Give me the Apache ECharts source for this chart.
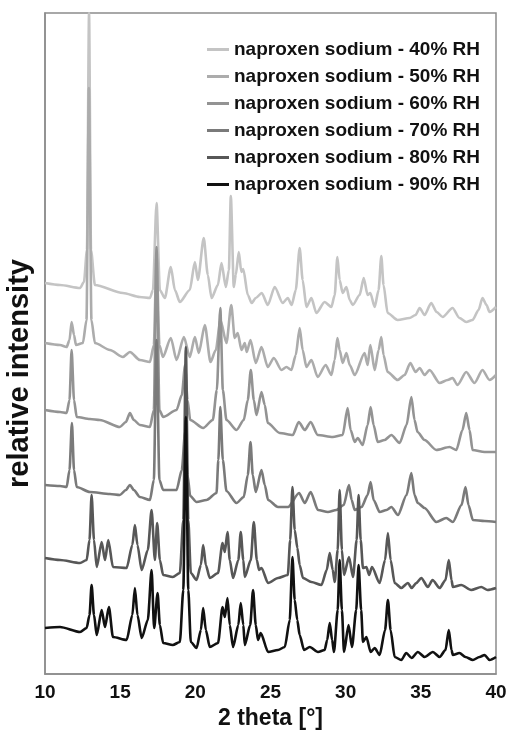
<!DOCTYPE html>
<html>
<head>
<meta charset="utf-8">
<title>naproxen sodium XRPD</title>
<script src="https://cdn.jsdelivr.net/npm/echarts@6/dist/echarts.min.js"></script>
<style>
  html, body { margin: 0; padding: 0; background: #fff; }
  #main { width: 507px; height: 739px; }
</style>
</head>
<body>
<div id="main"></div>
<script>
// series names, as in the legend
var seriesNames = [
  'naproxen sodium - 40% RH',
  'naproxen sodium - 50% RH',
  'naproxen sodium - 60% RH',
  'naproxen sodium - 70% RH',
  'naproxen sodium - 80% RH',
  'naproxen sodium - 90% RH'
];

var xTicks = [10, 15, 20, 25, 30, 35, 40];

// [2 theta, relative intensity incl. stacking offset]
var rh40 = [
  [10.00,391],[11.00,389],[12.33,386],[12.59,392],[12.79,424],[12.93,661],[13.06,424],[13.32,389],
  [15.18,381],[16.31,377],[16.98,376],[17.18,384],[17.42,471],[17.64,384],[17.97,376],[18.37,407],
  [18.64,384],[18.97,372],[19.63,384],[19.97,412],[20.17,394],[20.56,436],[20.83,399],[21.08,376],
  [21.50,389],[21.74,411],[22.03,387],[22.23,404],[22.36,478],[22.56,387],[22.69,399],[22.89,422],
  [23.06,402],[23.19,405],[23.49,379],[23.75,371],[24.02,376],[24.42,381],[24.82,369],[25.28,387],
  [25.81,371],[26.15,376],[26.41,369],[26.68,384],[26.94,426],[27.14,394],[27.39,367],[27.72,376],
  [28.05,361],[28.60,372],[29.05,367],[29.27,379],[29.45,417],[29.60,394],[29.80,381],[30.05,387],
  [30.27,374],[30.47,369],[30.93,379],[31.20,396],[31.46,379],[31.64,381],[31.93,367],[32.19,384],
  [32.37,418],[32.52,389],[32.79,361],[33.46,354],[34.25,356],[34.65,359],[34.92,366],[35.25,359],
  [35.69,371],[36.05,362],[36.45,357],[37.11,366],[37.57,356],[38.02,352],[38.44,354],[38.84,364],
  [39.10,376],[39.37,369],[39.57,362],[40.00,367]
];

var rh50 = [
  [10.00,331],[11.00,329],[11.44,327],[11.63,334],[11.77,352],[11.93,339],[12.06,329],[12.52,331],
  [12.76,354],[12.92,586],[13.09,354],[13.32,331],[14.32,324],[15.18,317],[15.65,322],[16.31,314],
  [16.98,312],[17.24,329],[17.42,419],[17.61,329],[17.84,317],[18.37,336],[18.75,314],[19.24,337],
  [19.63,317],[19.97,337],[20.23,321],[20.63,349],[21.01,312],[21.36,324],[21.67,354],[22.07,331],
  [22.39,369],[22.62,336],[22.82,341],[23.07,324],[23.29,331],[23.42,322],[23.67,334],[24.02,311],
  [24.40,327],[24.82,307],[25.22,316],[25.73,304],[26.06,307],[26.39,304],[26.68,319],[26.94,346],
  [27.14,324],[27.39,307],[27.72,314],[28.14,297],[28.67,309],[29.05,299],[29.27,314],[29.45,336],
  [29.60,324],[29.80,311],[30.05,321],[30.27,309],[30.60,299],[31.26,321],[31.46,309],[31.64,329],
  [31.93,304],[32.19,324],[32.37,337],[32.52,319],[32.79,302],[33.46,294],[33.92,299],[34.30,311],
  [34.65,302],[34.92,306],[35.25,299],[35.58,304],[36.25,291],[36.78,294],[37.11,296],[37.44,289],
  [38.02,302],[38.57,291],[39.10,304],[39.57,294],[40.00,299]
];

var rh60 = [
  [10.00,264],[11.00,262],[11.44,261],[11.63,274],[11.77,324],[11.93,274],[12.11,257],[12.99,255],
  [13.65,254],[14.98,247],[15.38,252],[15.65,261],[15.91,254],[16.31,249],[16.98,247],[17.24,264],
  [17.42,427],[17.61,264],[17.86,257],[18.75,264],[19.10,279],[19.32,309],[19.48,274],[19.66,254],
  [20.52,246],[21.16,254],[21.43,284],[21.66,366],[21.83,284],[22.07,254],[22.74,244],[23.22,254],
  [23.49,274],[23.69,304],[23.89,274],[24.07,259],[24.40,282],[24.62,269],[24.82,251],[25.61,241],
  [26.48,239],[26.88,252],[27.28,244],[27.67,252],[28.14,239],[29.14,237],[29.80,239],[30.13,266],
  [30.33,244],[30.60,232],[30.80,236],[31.13,229],[31.46,249],[31.66,267],[31.86,249],[32.13,232],
  [32.59,234],[33.04,239],[33.59,231],[34.05,249],[34.37,277],[34.58,254],[34.78,242],[35.25,234],
  [36.03,224],[36.91,227],[37.36,224],[37.77,244],[38.02,261],[38.24,244],[38.44,224],[39.24,222],
  [40.00,222]
];

var rh70 = [
  [10.00,189],[11.00,188],[11.44,187],[11.63,204],[11.79,251],[11.93,204],[12.11,187],[12.99,182],
  [14.32,180],[14.98,179],[15.38,184],[15.65,189],[15.91,184],[16.31,177],[16.98,174],[17.24,194],
  [17.42,334],[17.61,194],[17.86,184],[18.75,184],[19.10,204],[19.32,242],[19.48,199],[19.66,178],
  [20.08,172],[20.74,174],[21.41,181],[21.53,214],[21.66,267],[21.83,214],[22.07,183],[22.74,171],
  [23.22,177],[23.49,199],[23.67,232],[23.82,199],[24.02,182],[24.40,204],[24.62,189],[24.84,174],
  [25.50,167],[26.17,167],[26.90,181],[27.28,171],[27.67,182],[28.16,164],[28.82,162],[29.38,164],
  [29.87,169],[30.22,189],[30.40,174],[30.60,164],[31.06,167],[31.46,179],[31.66,192],[31.86,174],
  [32.26,162],[32.72,164],[33.04,167],[33.48,159],[34.05,179],[34.37,201],[34.58,179],[34.80,171],
  [35.25,166],[36.03,152],[36.69,156],[37.13,152],[37.71,169],[37.97,187],[38.17,169],[38.46,154],
  [39.24,153],[40.00,152]
];

var rh80 = [
  [10.00,116],[11.00,114],[12.33,111],[12.77,114],[12.96,134],[13.10,179],[13.26,134],[13.44,107],
  [13.77,132],[13.99,114],[14.21,134],[14.52,107],[15.43,106],[15.81,129],[15.98,149],[16.15,129],
  [16.43,104],[16.84,124],[17.09,164],[17.31,114],[17.46,151],[17.64,114],[17.86,99],[18.50,97],
  [18.97,101],[19.20,154],[19.37,327],[19.53,154],[19.70,101],[20.08,94],[20.37,109],[20.52,129],
  [20.70,109],[20.96,96],[21.51,101],[21.81,131],[21.96,122],[22.14,142],[22.29,114],[22.51,96],
  [22.86,114],[23.02,142],[23.19,114],[23.29,97],[23.69,114],[23.89,152],[24.09,114],[24.24,104],
  [24.40,106],[24.84,91],[25.50,96],[26.15,99],[26.31,134],[26.46,187],[26.61,144],[26.79,126],
  [26.94,109],[27.16,96],[27.72,92],[28.39,89],[28.74,104],[28.94,121],[29.14,104],[29.27,92],
  [29.47,124],[29.60,184],[29.75,124],[29.89,99],[30.22,117],[30.49,97],[30.73,134],[30.86,179],
  [31.00,134],[31.15,106],[31.38,107],[31.56,99],[31.75,107],[32.26,91],[32.62,114],[32.81,141],
  [32.99,114],[33.26,91],[33.70,86],[34.14,91],[34.39,86],[34.70,91],[35.03,96],[35.47,87],
  [35.78,94],[36.25,86],[36.64,94],[36.86,114],[37.04,94],[37.13,87],[37.69,89],[38.35,84],
  [39.02,87],[39.44,84],[40.00,86]
];

var rh90 = [
  [10.00,46],[11.00,47],[12.33,42],[12.77,46],[12.96,59],[13.10,89],[13.26,59],[13.44,39],
  [13.77,64],[13.99,47],[14.25,67],[14.52,37],[15.43,34],[15.81,59],[15.98,86],[16.15,59],
  [16.43,36],[16.84,54],[17.09,104],[17.26,46],[17.49,81],[17.64,49],[17.86,31],[18.50,29],
  [18.97,32],[19.20,84],[19.37,257],[19.53,84],[19.70,32],[20.08,26],[20.37,44],[20.52,66],
  [20.70,44],[20.96,27],[21.51,31],[21.81,67],[21.96,57],[22.14,76],[22.29,49],[22.51,27],
  [22.86,49],[23.02,71],[23.19,49],[23.29,29],[23.65,49],[23.84,84],[24.02,49],[24.17,34],
  [24.35,41],[24.84,22],[25.50,24],[25.95,27],[26.28,54],[26.46,117],[26.61,74],[26.78,54],
  [26.94,39],[27.23,24],[27.61,27],[28.16,22],[28.60,24],[28.77,34],[28.94,51],[29.10,34],
  [29.22,22],[29.47,64],[29.60,114],[29.75,64],[29.89,22],[30.19,49],[30.42,27],[30.70,64],
  [30.86,109],[31.03,64],[31.15,32],[31.38,37],[31.66,22],[31.93,26],[32.26,19],[32.62,44],
  [32.81,74],[32.99,44],[33.26,17],[33.70,14],[34.03,21],[34.39,16],[34.80,22],[35.25,17],
  [35.80,22],[36.25,17],[36.64,24],[36.86,44],[37.04,24],[37.13,19],[37.57,21],[37.97,17],
  [38.46,14],[38.90,17],[39.24,19],[39.57,14],[40.00,17]
];

var patterns = [rh40, rh50, rh60, rh70, rh80, rh90];
var grays = ['#c4c4c4', '#acacac', '#939393', '#7a7a7a', '#575757', '#111111'];

var font = '"Liberation Sans", Arial, sans-serif';
var chart = echarts.init(document.getElementById('main'), null, { renderer: 'canvas' });

var series = [];
for (var i = 0; i < patterns.length; i++) {
  series.push({
    name: seriesNames[i],
    type: 'line',
    data: patterns[i],
    showSymbol: false,
    smooth: 0.25,
    smoothMonotone: 'x',
    clip: true,
    lineStyle: { color: grays[i], width: 2.6 },
    itemStyle: { color: grays[i] },
    emphasis: { disabled: true }
  });
}

chart.setOption({
  animation: false,
  grid: {
    left: 45, right: 11, top: 13, bottom: 65,
    outerBoundsMode: 'none',
    show: true, borderColor: '#8c8c8c', borderWidth: 1.5
  },
  legend: {
    orient: 'vertical',
    right: 22, top: 35,
    icon: 'rect',
    itemWidth: 22, itemHeight: 3,
    itemGap: 8,
    data: seriesNames,
    textStyle: { fontFamily: font, fontWeight: 'bold', fontSize: 19, lineHeight: 19, color: '#111' }
  },
  xAxis: {
    type: 'value',
    min: xTicks[0], max: xTicks[xTicks.length - 1], interval: 5,
    name: '2 theta [°]',
    nameLocation: 'middle',
    nameGap: 33,
    nameTextStyle: { fontFamily: font, fontWeight: 'bold', fontSize: 23, color: '#111' },
    axisLine: { show: true, lineStyle: { color: '#8c8c8c', width: 1.5 } },
    axisTick: { show: false },
    splitLine: { show: false },
    axisLabel: {
      margin: 9, fontFamily: font, fontWeight: 'bold', fontSize: 19, color: '#111',
      showMinLabel: true, showMaxLabel: true
    }
  },
  yAxis: {
    type: 'value',
    min: 0, max: 661,
    name: 'relative intensity',
    nameLocation: 'middle',
    nameGap: 11,
    nameTextStyle: {
      fontFamily: font, fontWeight: 'bold', fontSize: 29, color: '#111',
      padding: [0, 60, 0, 0]
    },
    axisLine: { show: true, lineStyle: { color: '#8c8c8c', width: 1.5 } },
    axisTick: { show: false },
    axisLabel: { show: false },
    splitLine: { show: false }
  },
  series: series
});
</script>
</body>
</html>
